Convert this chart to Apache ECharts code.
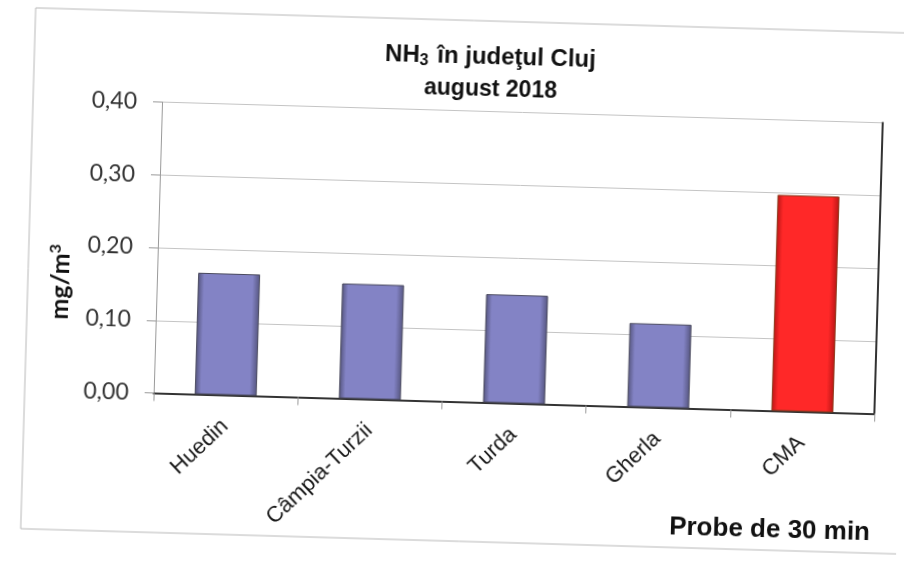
<!DOCTYPE html>
<html>
<head>
<meta charset="utf-8">
<script src="https://cdn.jsdelivr.net/npm/echarts@6/dist/echarts.min.js"></script>
<style>
  html, body { margin: 0; padding: 0; background: #fff; overflow: hidden; }
  /* the source is a slightly tilted scan, so the whole chart is tilted the same way */
  #chart { width: 904px; height: 562px; transform: rotate(1.65deg); transform-origin: 452px 281px; }
</style>
</head>
<body>
<div id="chart"></div>
<script>
const stations = ['Huedin', 'Câmpia-Turzii', 'Turda', 'Gherla', 'CMA'];
const nh3Values = [0.167, 0.158, 0.149, 0.115, 0.297];
const yTicks = [0, 0.1, 0.2, 0.3, 0.4];

const chart = echarts.init(document.getElementById('chart'));

// bevelled bar look, like the old office 3D-ish bars
function barFill(mid, edge) {
  return new echarts.graphic.LinearGradient(0, 0, 1, 0, [
    { offset: 0, color: edge },
    { offset: 0.1, color: mid },
    { offset: 0.88, color: mid },
    { offset: 1, color: edge }
  ]);
}
const blueBar = barFill('#8383c5', '#55557f');
const redBar = barFill('#ff2828', '#b81515');

const boldFont = 'Liberation Sans';

const option = {
  backgroundColor: '#fff',
  animation: false,
  graphic: [
    {
      type: 'rect',
      shape: { x: 28, y: 20, width: 890, height: 521 },
      style: { fill: 'none', stroke: '#b8b8b8', lineWidth: 1 },
      z: -1
    },
    {
      type: 'text',
      x: 484, y: 56,
      style: {
        text: '{a|NH}{s|3}{a| în judeţul Cluj}',
        align: 'center', verticalAlign: 'middle',
        rich: {
          a: { fontFamily: boldFont, fontWeight: 'bold', fontSize: 24, fill: '#111' },
          s: { fontFamily: boldFont, fontWeight: 'bold', fontSize: 16, fill: '#111', padding: [11, 2, 0, 0] }
        }
      }
    },
    {
      type: 'text',
      x: 485, y: 89,
      style: {
        text: 'august 2018',
        align: 'center', verticalAlign: 'middle',
        fontFamily: boldFont, fontWeight: 'bold', fontSize: 23, fill: '#111'
      }
    },
    {
      type: 'text',
      x: 61, y: 293,
      rotation: Math.PI / 2,
      style: {
        text: '{a|mg/m}{s|3}',
        align: 'center', verticalAlign: 'middle',
        rich: {
          a: { fontFamily: 'Lato', fontWeight: 'bold', fontSize: 25, fill: '#111' },
          s: { fontFamily: 'Lato', fontWeight: 'bold', fontSize: 16, fill: '#111', padding: [0, 0, 12, 0] }
        }
      }
    },
    {
      type: 'text',
      x: 877, y: 521,
      style: {
        text: 'Probe de 30 min',
        align: 'right', verticalAlign: 'middle',
        fontFamily: boldFont, fontWeight: 'bold', fontSize: 26, fill: '#111'
      }
    }
  ],
  grid: { left: 157, right: 26, top: 110.5, bottom: 160.5 },
  xAxis: [
    {
      type: 'category',
      data: stations,
      axisLine: { lineStyle: { color: '#9a9a9a' } },
      axisTick: { show: true, length: 8, lineStyle: { color: '#9a9a9a' } },
      axisLabel: {
        rotate: 45, margin: 28, color: '#1a1a1a',
        fontFamily: 'Liberation Sans', fontSize: 22
      }
    },
    {
      type: 'category',
      position: 'top',
      data: stations,
      axisLine: { lineStyle: { color: '#333', width: 2 } },
      axisTick: { show: false },
      axisLabel: { show: false }
    }
  ],
  yAxis: [
    {
      type: 'value',
      min: yTicks[0],
      max: yTicks[yTicks.length - 1],
      interval: 0.1,
      axisLine: { show: true, lineStyle: { color: '#9a9a9a' } },
      axisTick: { show: true, length: 9, lineStyle: { color: '#9a9a9a' } },
      axisLabel: {
        margin: 25, color: '#333',
        fontFamily: 'Lato', fontSize: 23,
        formatter: v => v.toFixed(2).replace('.', ',')
      },
      splitLine: { lineStyle: { color: '#c4c4c4' } }
    },
    {
      type: 'value',
      position: 'right',
      min: 0, max: 0.4, interval: 0.1,
      axisLine: { show: true, lineStyle: { color: '#333', width: 2 } },
      axisTick: { show: false },
      axisLabel: { show: false },
      splitLine: { show: false }
    }
  ],
  series: [
    {
      name: 'NH3',
      type: 'bar',
      barWidth: '43%',
      data: nh3Values.map((v, i) => ({
        value: v,
        itemStyle: {
          color: i === nh3Values.length - 1 ? redBar : blueBar,
          borderColor: i === nh3Values.length - 1 ? '#8a3a1a' : '#4a4a5e',
          borderWidth: 1
        }
      }))
    }
  ]
};

chart.setOption(option);
window.addEventListener('resize', () => chart.resize());
</script>
</body>
</html>
